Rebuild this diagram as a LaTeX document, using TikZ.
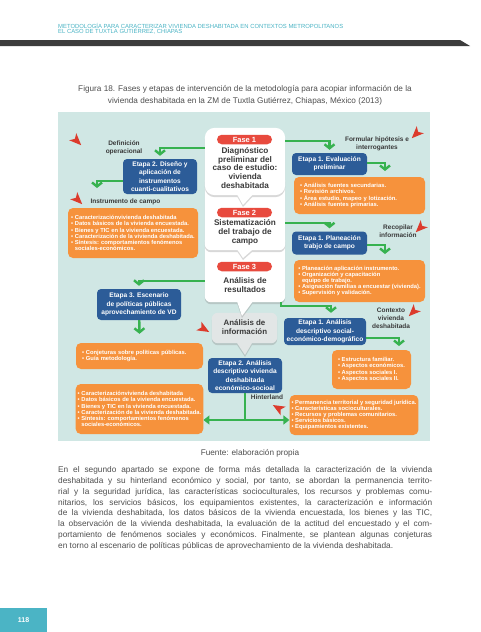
\documentclass[tikz,border=0pt]{standalone}
\usepackage{fontspec}
\setmainfont{Liberation Sans}
\usetikzlibrary{arrows.meta,positioning,shadows}
\definecolor{ink}{HTML}{3A3A3A}
\definecolor{body}{HTML}{4F4F4F}
\definecolor{teal}{HTML}{4BB4C5}
\definecolor{bar}{HTML}{3C3C3C}
\definecolor{panel}{HTML}{D0E7E4}
\definecolor{stagebg}{HTML}{2C5C98}
\definecolor{itembg}{HTML}{F6923C}
\definecolor{flowc}{HTML}{37B250}
\definecolor{flag}{HTML}{DC3B2C}
\definecolor{pill}{HTML}{E84A3E}
\definecolor{cloud}{HTML}{E2E6E6}

\begin{document}
\begin{tikzpicture}[x=1pt,y=-1pt,
  stage/.style={fill=stagebg,rounded corners=4pt,inner sep=1pt,align=center,
    text=white,font=\fontsize{6.6}{8.3}\selectfont\bfseries},
  items/.style={fill=itembg,rounded corners=5pt,inner xsep=2pt,inner ysep=1pt,align=left,
    text=white,font=\fontsize{5.8}{6.2}\selectfont\bfseries},
  lbl/.style={align=center,text=ink,font=\fontsize{6.5}{7.8}\selectfont\bfseries},
  shell/.style={minimum width=80pt,inner sep=0pt},
  bubble/.style={fill=white,drop shadow={opacity=.3,shadow xshift=0pt,shadow yshift=-2pt}},
  fasetag/.style={fill=pill,rounded corners=4.75pt,minimum width=55pt,minimum height=9.5pt,
    inner sep=0pt,text=white,font=\fontsize{7.5}{8}\selectfont\bfseries},
  phase/.style={align=center,text=ink,font=\fontsize{8.2}{8.8}\selectfont\bfseries},
  flow/.style={draw=flowc,line width=2.4pt,-{Straight Barb[length=4pt,width=10pt]}},
  both/.style={draw=flowc,line width=2.4pt,{Triangle[length=6pt,width=9pt]}-{Triangle[length=6pt,width=9pt]}},
  stem/.style={draw=flowc,line width=2.4pt},
  redtip/.pic={\fill[flag] (6,0) -- (-6,5) -- (-3,0) -- (-6,-5) -- cycle;}
]
\fill[white] (0,0) rectangle (480,632);
\useasboundingbox (0,0) rectangle (480,632);

\node[anchor=west,inner sep=0pt,align=left,text=teal,font=\fontsize{5.9}{5.9}\selectfont] (head) at (58,28.8)
  {METODOLOGÍA PARA CARACTERIZAR VIVIENDA DESHABITADA EN CONTEXTOS METROPOLITANOS\\
   EL CASO DE TUXTLA GUTIÉRREZ, CHIAPAS};
\fill[bar] (0,40) -- (460,40) -- (470,46) -- (0,46) -- cycle;

\node[align=center,text=body,font=\fontsize{8.2}{12}\selectfont] (cap) at (245,95)
  {Figura 18. Fases y etapas de intervención de la metodología para acopiar información de la\\
   vivienda deshabitada en la ZM de Tuxtla Gutiérrez, Chiapas, México (2013)};

\fill[panel] (58,112) rectangle (430,441);

\node[shell,minimum width=65pt,minimum height=30pt] (nube) at (244.5,328) {};
\node[shell,minimum height=67pt] (fase3) at (245,268.5) {};
\node[shell,minimum height=75pt] (fase2) at (245,212.5) {};
\node[shell,minimum height=67pt] (fase1) at (245,161.5) {};
\path[bubble,fill=cloud,rounded corners=6pt] (nube.north west) rectangle (nube.south east)
  [sharp corners] ([xshift=-8pt,yshift=1pt]nube.south) -- (245,355) -- ([xshift=8pt,yshift=1pt]nube.south) -- cycle;
\path[bubble,rounded corners=6pt] (fase3.north west) rectangle (fase3.south east)
  [sharp corners] ([xshift=-8pt,yshift=1pt]fase3.south) -- (242,316) -- ([xshift=8pt,yshift=1pt]fase3.south) -- cycle;
\path[bubble,rounded corners=6pt] (fase2.north west) rectangle (fase2.south east)
  [sharp corners] ([xshift=-8pt,yshift=1pt]fase2.south) -- (243,258) -- ([xshift=8pt,yshift=1pt]fase2.south) -- cycle;
\path[bubble,rounded corners=10pt] (fase1.north west) rectangle (fase1.south east)
  [sharp corners] ([xshift=-8pt,yshift=1pt]fase1.south) -- (243,205) -- ([xshift=8pt,yshift=1pt]fase1.south) -- cycle;

\node[fasetag] (tag1) at (244.5,139.5) {Fase 1};
\node[phase] (txt1) at (245,168) {Diagnóstico\\preliminar del\\caso de estudio:\\vivienda\\deshabitada};
\node[fasetag] (tag2) at (244.5,212.5) {Fase 2};
\node[phase] (txt2) at (245,232.5) {Sistematización\\del trabajo de\\campo};
\node[fasetag] (tag3) at (244.5,266.5) {Fase 3};
\node[phase] (txt3) at (245,285) {Análisis de\\resultados};
\node[phase,font=\fontsize{7.9}{9}\selectfont\bfseries] (nubetxt) at (244.5,327.5) {Análisis de\\información};

\node[stage,minimum width=74pt,minimum height=35pt] (dis) at (160,176.5)
  {Etapa 2. Diseño y\\aplicación de\\instrumentos\\cuanti-cualitativos};
\node[stage,minimum width=75pt,minimum height=22pt] (eva) at (329.5,164) {Etapa 1. Evaluación\\preliminar};
\node[stage,minimum width=75pt,minimum height=23pt] (plan) at (329.5,243) {Etapa 1. Planeación\\trabjo de campo};
\node[stage,minimum width=84pt,minimum height=31pt] (esc) at (139,304.5)
  {Etapa 3. Escenario\\de políticas públicas\\aprovechamiento de VD};
\node[stage,minimum width=82pt,minimum height=27pt] (ana) at (325,331.5)
  {Etapa 1. Análisis\\descriptivo social-\\económico-demográfico};
\node[stage,minimum width=74pt,minimum height=35pt] (desc) at (245,375.5)
  {Etapa 2. Análisis\\descriptivo vivienda\\deshabitada\\económico-socioal};

\node[items,minimum width=130pt,minimum height=50pt] (inst) at (133,233)
  {\textbullet\ Caracterizaciónvivienda deshabitada\\
   \textbullet\ Datos básicos de la vivienda encuestada.\\
   \textbullet\ Bienes y TIC en la vivienda encuestada.\\
   \textbullet\ Caracterización de la vivienda deshabitada.\\
   \textbullet\ Síntesis: comportamientos fenómenos\\
   \phantom{\textbullet\ }sociales-económicos.};
\node[items,inner xsep=6pt,text width=119pt,minimum height=37pt] (evalist) at (359.5,195.5)
  {\textbullet\ Análisis fuentes secundarias.\\
   \textbullet\ Revisión archivos.\\
   \textbullet\ Área estudio, mapeo y lotización.\\
   \textbullet\ Análisis fuentes primarias.};
\node[items,minimum width=131pt,minimum height=42pt] (planlist) at (359.5,281)
  {\textbullet\ Planeación aplicación instrumento.\\
   \textbullet\ Organización y capacitación\\
   \phantom{\textbullet\ }equipo de trabajo.\\
   \textbullet\ Asignación familias a encuestar (vivienda).\\
   \textbullet\ Supervisión y validación.};
\node[items,inner xsep=6pt,text width=115pt,minimum height=26pt] (conj) at (139.5,356)
  {\textbullet\ Conjeturas sobre políticas públicas.\\
   \textbullet\ Guía metodología.};
\node[items,minimum width=79pt,minimum height=39pt] (analist) at (371.5,369.5)
  {\textbullet\ Estructura familiar.\\
   \textbullet\ Aspectos económicos.\\
   \textbullet\ Aspectos sociales I.\\
   \textbullet\ Aspectos sociales II.};
\node[items,minimum width=127pt,minimum height=50pt] (caract) at (139.5,409)
  {\textbullet\ Caracterizaciónvivienda deshabitada\\
   \textbullet\ Datos básicos de la vivienda encuestada.\\
   \textbullet\ Bienes y TIC en la vivienda encuestada.\\
   \textbullet\ Caracterización de la vivienda deshabitada.\\
   \textbullet\ Síntesis: comportamientos fenómenos\\
   \phantom{\textbullet\ }sociales-económicos.};
\node[items,minimum width=128pt,minimum height=40pt] (perm) at (354,415)
  {\textbullet\ Permanencia territorial y seguridad jurídica.\\
   \textbullet\ Características socioculturales.\\
   \textbullet\ Recursos y problemas comunitarios.\\
   \textbullet\ Servicios básicos.\\
   \textbullet\ Equipamientos existentes.};

\node[lbl] (defop) at (124,148) {Definición\\operacional};
\node[lbl,anchor=west] (instlab) at (87,202) {Instrumento de campo};
\node[lbl] (formlab) at (377,143.5) {Formular hipótesis e\\interrogantes};
\node[lbl] (recolab) at (398,231) {Recopilar\\información};
\node[lbl] (ctxlab) at (391,318.5) {Contexto\\vivienda\\deshabitada};
\node[lbl] (hintlab) at (267,397) {Hinterland};

\coordinate (c2) at (97,188);
\coordinate (c4) at (385,171);
\coordinate (c6) at (385,254);
\coordinate (c10) at (399,346);
\draw[flow] (fase1.west |- 0,148) -| ([yshift=3pt]dis.north);
\draw[flow] (dis.west |- 0,181) -| (c2);
\draw[flow] (fase1.east |- 0,141) -| ([yshift=3pt]eva.north);
\draw[flow] (eva.east |- 0,163) -| (c4);
\draw[flow] (fase2.east |- 0,223) -| ([yshift=3pt]plan.north);
\draw[flow] (plan.east |- 0,245) -| (c6);
\draw[flow] (fase3.west |- 0,281) -| ([yshift=3pt]esc.north);
\draw[flow] (esc) -- ([yshift=9pt]conj.north);
\draw[flow] ([xshift=-4pt]fase3.south east) -- ++(0,4) -| ([xshift=6pt,yshift=5pt]ana.north);
\draw[flow] (ana.east |- 0,338) -| (c10);
\draw[stem] (desc) -- (desc.south |- 0,420);
\draw[both] (caract.east |- 0,420) -- (perm.west |- 0,420);

\pic[rotate=-45] at (77,141) {redtip};
\pic[rotate=-45] at (78,200) {redtip};
\pic[rotate=225] at (416,134) {redtip};
\pic[rotate=225] at (420,228) {redtip};
\pic[rotate=225] at (413,312) {redtip};
\pic[rotate=-30] at (204,329) {redtip};
\pic[rotate=150] at (278,408) {redtip};

\node[text=body,font=\fontsize{8.2}{10}\selectfont] (src) at (250,453) {Fuente: elaboración propia};

\node[anchor=north west,inner sep=0pt,align=left,text=body,font=\fontsize{8.3}{10.8}\selectfont\frenchspacing] (para) at (58,466.3)
  {\makebox[374pt][s]{En el segundo apartado se expone de forma más detallada la caracterización de la vivienda}\\
   \makebox[374pt][s]{deshabitada y su hinterland económico y social, por tanto, se abordan la permanencia territo-}\\
   \makebox[374pt][s]{rial y la seguridad jurídica, las características socioculturales, los recursos y problemas comu-}\\
   \makebox[374pt][s]{nitarios, los servicios básicos, los equipamientos existentes, la caracterización e información}\\
   \makebox[374pt][s]{de la vivienda deshabitada, los datos básicos de la vivienda encuestada, los bienes y las TIC,}\\
   \makebox[374pt][s]{la observación de la vivienda deshabitada, la evaluación de la actitud del encuestado y el com-}\\
   \makebox[374pt][s]{portamiento de fenómenos sociales y económicos. Finalmente, se plantean algunas conjeturas}\\
   en torno al escenario de políticas públicas de aprovechamiento de la vivienda deshabitada.};

\fill[teal] (0,608) rectangle (47,632);
\node[text=white,font=\fontsize{7}{8}\selectfont\bfseries] (pg) at (23.5,620) {118};
\end{tikzpicture}
\end{document}
